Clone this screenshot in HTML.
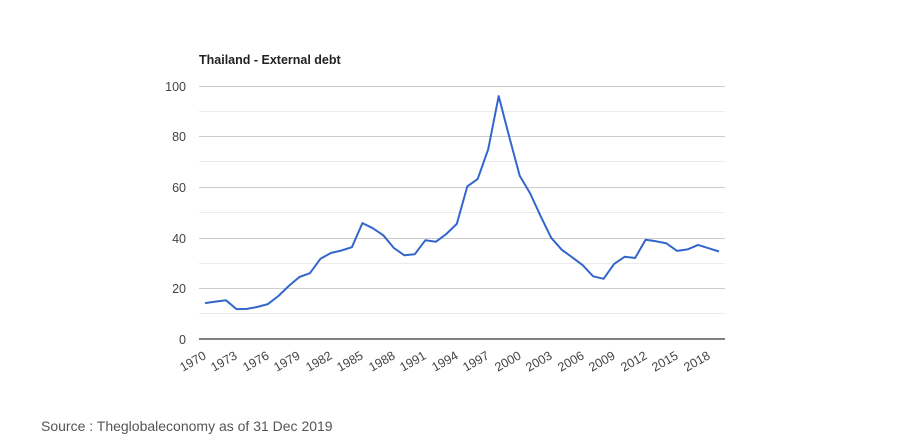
<!DOCTYPE html>
<html><head><meta charset="utf-8"><style>
body{margin:0;background:#fff;}
svg{display:block;font-family:"Liberation Sans",Arial,sans-serif;}
</style></head><body>
<svg width="904" height="444" viewBox="0 0 904 444" xmlns="http://www.w3.org/2000/svg">
<rect width="904" height="444" fill="#fff"/>
<text x="199" y="64" font-size="12.5" font-weight="bold" fill="#222">Thailand - External debt</text>
<g stroke="#ebebeb" stroke-width="1">
<line x1="199" x2="725" y1="111.5" y2="111.5"/><line x1="199" x2="725" y1="161.5" y2="161.5"/>
<line x1="199" x2="725" y1="212.5" y2="212.5"/><line x1="199" x2="725" y1="263.5" y2="263.5"/>
<line x1="199" x2="725" y1="313.5" y2="313.5"/>
</g>
<g stroke="#cccccc" stroke-width="1">
<line x1="199" x2="725" y1="86.5" y2="86.5"/><line x1="199" x2="725" y1="136.5" y2="136.5"/>
<line x1="199" x2="725" y1="187.5" y2="187.5"/><line x1="199" x2="725" y1="238.5" y2="238.5"/>
<line x1="199" x2="725" y1="288.5" y2="288.5"/>
</g>
<line x1="199" x2="725" y1="339" y2="339" stroke="#333" stroke-width="1.3"/>
<g font-size="12.5" fill="#444" text-anchor="end">
<text x="186" y="91">100</text><text x="186" y="141">80</text><text x="186" y="192">60</text>
<text x="186" y="243">40</text><text x="186" y="293">20</text><text x="186" y="344">0</text>
</g>
<g font-size="12.5" fill="#444" text-anchor="end">
<text transform="translate(207,358) rotate(-30)">1970</text>
<text transform="translate(238,358) rotate(-30)">1973</text>
<text transform="translate(270,358) rotate(-30)">1976</text>
<text transform="translate(301,358) rotate(-30)">1979</text>
<text transform="translate(333,358) rotate(-30)">1982</text>
<text transform="translate(364,358) rotate(-30)">1985</text>
<text transform="translate(396,358) rotate(-30)">1988</text>
<text transform="translate(427,358) rotate(-30)">1991</text>
<text transform="translate(459,358) rotate(-30)">1994</text>
<text transform="translate(490,358) rotate(-30)">1997</text>
<text transform="translate(522,358) rotate(-30)">2000</text>
<text transform="translate(553,358) rotate(-30)">2003</text>
<text transform="translate(585,358) rotate(-30)">2006</text>
<text transform="translate(616,358) rotate(-30)">2009</text>
<text transform="translate(648,358) rotate(-30)">2012</text>
<text transform="translate(679,358) rotate(-30)">2015</text>
<text transform="translate(711,358) rotate(-30)">2018</text>
</g>
<polyline fill="none" stroke="#3366cc" stroke-width="2" stroke-linejoin="round" points="
205.0,303.1 215.5,301.6 226.0,300.3 236.5,309.1 247.0,308.9 257.5,306.9 267.9,304.1 278.4,296.0 288.9,285.9 299.4,277.0 309.9,273.2 320.4,258.8 330.9,253.0 341.4,250.5 351.9,247.2 362.4,223.1 372.8,228.2 383.3,235.3 393.8,247.9 404.3,255.3 414.8,254.2 425.3,240.3 435.8,241.8 446.3,234.0 456.8,223.9 467.3,186.4 477.7,178.9 488.2,149.3 498.7,96.1 509.2,136.6 519.7,175.8 530.2,193.5 540.7,216.3 551.2,237.8 561.7,249.7 572.2,257.3 582.6,265.1 593.1,276.3 603.6,278.8 614.1,263.9 624.6,256.8 635.1,258.0 645.6,239.8 656.1,241.3 666.6,243.4 677.1,250.9 687.5,249.4 698.0,244.9 708.5,248.2 719.0,251.5"/>
<text x="41" y="431" font-size="14" fill="#555">Source : Theglobaleconomy as of 31 Dec 2019</text>
</svg>
</body></html>
